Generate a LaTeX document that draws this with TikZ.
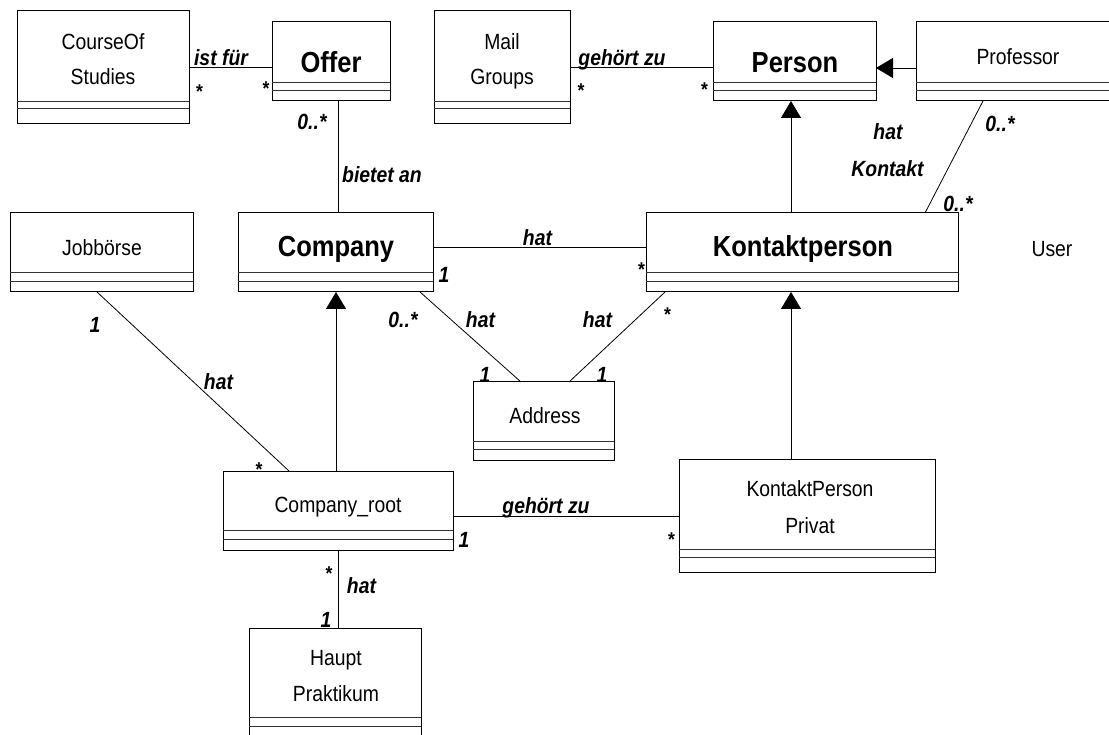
\documentclass[tikz,border=0pt]{standalone}
\usepackage{fontspec}
\setmainfont{Liberation Sans}
\newfontfamily\umlfont[FakeStretch=0.88]{Liberation Sans}
\usetikzlibrary{arrows.meta,calc}

\tikzset{
  classbox/.style={draw, line width=1pt, inner sep=0pt, outer sep=0pt, anchor=north west},
  divider/.style={line width=0.9pt, black!80},
  cname/.style={font=\umlfont\fontsize{22}{26}\selectfont, inner sep=0pt, anchor=base},
  bname/.style={font=\umlfont\bfseries\fontsize{29}{34}\selectfont, inner sep=0pt, anchor=base},
  lbl/.style={font=\umlfont\bfseries\itshape\fontsize{22}{26}\selectfont, inner sep=0pt, anchor=base},
  mult/.style={font=\umlfont\bfseries\fontsize{20}{24}\selectfont, inner sep=0pt, anchor=north},
  assoc/.style={line width=0.8pt},
  gen/.style={line width=0.8pt, -{Triangle[length=17pt,width=20pt]}},
}

% class box: name, x1, y1, x2, y2, first divider, second divider
\newcommand\umlclass[7]{%
  \node[classbox, minimum width={(#4-#2)*1pt}, minimum height={(#5-#3)*1pt}] (#1) at (#2,#3) {};
  \draw[divider] (#2,#6) -- (#4,#6);
  \draw[divider] (#2,#7) -- (#4,#7);
}

\begin{document}
\begin{tikzpicture}[x=1pt,y=-1pt]
\useasboundingbox (0,0) rectangle (1109,735);

% classes
\umlclass{cos}{17}{11}{189}{124}{101}{108}
\umlclass{offer}{272}{22}{390}{101}{82}{90}
\umlclass{mail}{434}{11}{570}{124}{101}{108}
\umlclass{person}{713}{22}{876}{101}{82}{90}
\umlclass{prof}{916}{22}{1120}{101}{82}{90}
\umlclass{job}{10}{213}{193}{292}{272}{281}
\umlclass{company}{238}{213}{433}{292}{272}{281}
\umlclass{kp}{646}{213}{958}{292}{272}{281}
\umlclass{addr}{473}{382}{614}{460}{441}{449}
\umlclass{croot}{223}{471}{453}{550}{530}{539}
\umlclass{kpp}{679}{459}{935}{572}{549}{557}
\umlclass{haupt}{249}{628}{421}{745}{717}{726}

% class names
\node[cname] (cosA) at (103,50) {CourseOf};
\node[cname] (cosB) at (103,85) {Studies};
\node[bname] (offerT) at (331,73) {Offer};
\node[cname] (mailA) at (502,50) {Mail};
\node[cname] (mailB) at (502,85) {Groups};
\node[bname] (personT) at (795,73) {Person};
\node[cname] (profT) at (1018,65) {Professor};
\node[cname] (jobT) at (102,256) {Jobbörse};
\node[bname] (companyT) at (336,257) {Company};
\node[bname] (kpT) at (803,257) {Kontaktperson};
\node[cname] (userT) at (1052,257) {User};
\node[cname] (addrT) at (545,424) {Address};
\node[cname] (crootT) at (338,512) {Company\_root};
\node[cname] (kppA) at (810,496) {KontaktPerson};
\node[cname] (kppB) at (810,533) {Privat};
\node[cname] (hauptA) at (336,665) {Haupt};
\node[cname] (hauptB) at (336,701) {Praktikum};

% associations
\draw[assoc] (cos.east) -- (cos.east -| offer.west);
\draw[assoc] (mail.east) -- (mail.east -| person.west);
\coordinate (offerFoot) at ([xshift=7pt]offer.south);
\draw[assoc] (offerFoot) -- (offerFoot |- company.north);
\coordinate (companyRight) at ([yshift=5.5pt]company.east);
\draw[assoc] (companyRight) -- (companyRight -| kp.west);
\draw[assoc] ([xshift=67pt]prof.south west) -- ([xshift=279pt]kp.north west);
\draw[assoc] ([xshift=-13pt]company.south east) -- ([xshift=48pt]addr.north west);
\draw[assoc] ([xshift=19pt]kp.south west) -- ([xshift=96pt]addr.north west);
\draw[assoc] ([xshift=87pt]job.south west) -- ([xshift=66pt]croot.north west);
\coordinate (crootRight) at ([yshift=-5.5pt]croot.east);
\draw[assoc] (crootRight) -- (crootRight -| kpp.west);
\draw[assoc] (croot.south) -- (croot.south |- haupt.north);

% generalizations
\coordinate (profLeft) at ([yshift=-6.5pt]prof.west);
\draw[gen] (profLeft) -- (profLeft -| person.east);
\coordinate (personFoot) at ([xshift=-3.5pt]person.south);
\draw[gen] (kp.north -| personFoot) -- (personFoot);
\coordinate (companyFoot) at ([xshift=0.5pt]company.south);
\draw[gen] (croot.north -| companyFoot) -- (companyFoot);
\coordinate (kpFoot) at ([xshift=-11pt]kp.south);
\draw[gen] (kpp.north -| kpFoot) -- (kpFoot);

% association names and multiplicities
\node[lbl] (l1) at (221,66) {ist für};
\node[mult] (m1) at (199.5,85) {*};
\node[mult] (m2) at (266,82) {*};
\node[lbl] (m3) at (312,130) {0..*};
\node[lbl, anchor=base west] (l2) at (342,183) {bietet an};
\node[lbl] (l3) at (622,66) {gehört zu};
\node[mult] (m4) at (581,84) {*};
\node[mult] (m5) at (704.5,83) {*};
\node[lbl] (l4) at (888,140) {hat};
\node[lbl] (l5) at (887.5,177) {Kontakt};
\node[lbl] (m6) at (1000,132) {0..*};
\node[lbl] (m7) at (958,212) {0..*};
\node[lbl] (l6) at (537.5,246) {hat};
\node[lbl] (m8) at (444,283) {1};
\node[mult] (m9) at (641.5,263) {*};
\node[lbl] (m10) at (403,328) {0..*};
\node[lbl] (l7) at (480.5,328) {hat};
\node[lbl] (l8) at (597.5,328) {hat};
\node[mult] (m11) at (667.5,308) {*};
\node[lbl] (m12) at (485,383) {1};
\node[lbl] (m13) at (602,383) {1};
\node[lbl] (m14) at (95,333) {1};
\node[lbl] (l9) at (218.5,390) {hat};
\node[mult] (m15) at (259,463) {*};
\node[lbl] (l10) at (546,513) {gehört zu};
\node[lbl] (m16) at (464,547) {1};
\node[mult] (m17) at (671.5,533) {*};
\node[mult] (m18) at (329,567) {*};
\node[lbl] (l11) at (361.5,593) {hat};
\node[lbl] (m19) at (326,627) {1};
\end{tikzpicture}
\end{document}
